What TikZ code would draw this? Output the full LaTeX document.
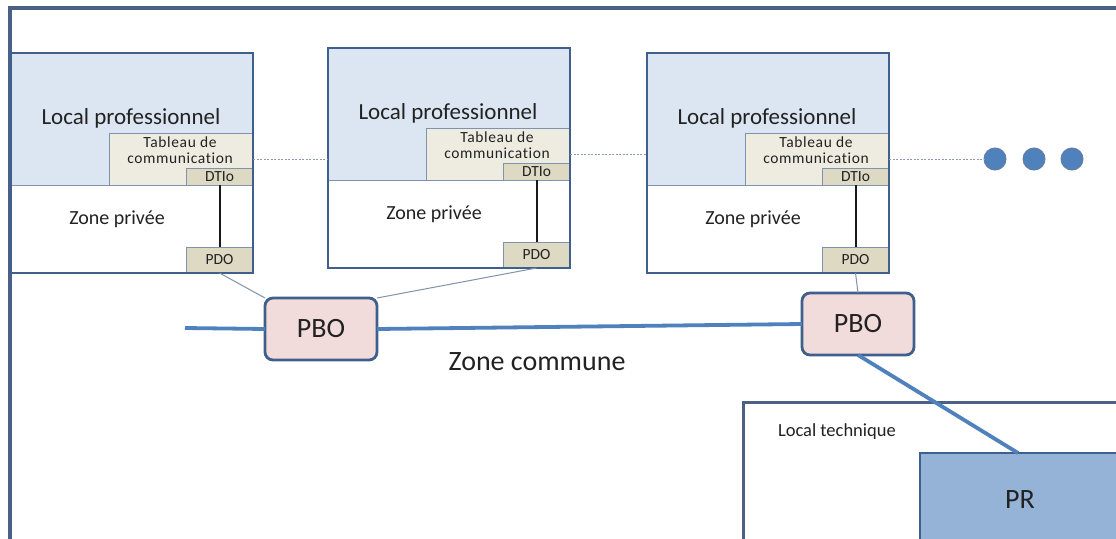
\documentclass[tikz,border=0pt]{standalone}
\usepackage{fontspec}
\setmainfont{Carlito}[Ligatures=NoCommon]
\definecolor{framecol}{HTML}{4A6085}
\definecolor{boxcol}{HTML}{3F5F8C}
\definecolor{thincol}{HTML}{7F93AE}
\definecolor{dotcol}{HTML}{8C9AAE}
\definecolor{lightblue}{HTML}{DCE6F2}
\definecolor{tanlight}{HTML}{EEECE1}
\definecolor{tandark}{HTML}{DDD9C3}
\definecolor{pink}{HTML}{F2DCDB}
\definecolor{prblue}{HTML}{95B3D7}
\definecolor{linkblue}{HTML}{4F81BD}
\definecolor{txt}{HTML}{222222}
\newcommand\fs[1]{\fontsize{#1}{#1}\selectfont}
\tikzset{
  every node/.style={text=txt, inner sep=0pt, outer sep=0pt},
  framestyle/.style={draw=framecol, line width=4.5pt},
  lpbox/.style={rectangle, draw=boxcol, line width=2.8pt, fill=white,
    anchor=north west, minimum width=242, minimum height=220},
  upperzone/.style={rectangle, draw=thincol, line width=1pt, fill=lightblue,
    anchor=north west, minimum width=242, minimum height=132},
  tabbox/.style={rectangle, draw=thincol, line width=1pt, fill=tanlight,
    anchor=north west, minimum width=144, minimum height=52},
  smallbox/.style={rectangle, draw=thincol, line width=1pt, fill=tandark,
    anchor=north west, minimum width=67, font=\fs{15.5}},
  pbobox/.style={rectangle, rounded corners=8pt, draw=boxcol, line width=2.8pt,
    fill=pink, minimum width=112, minimum height=62, font=\fs{28}},
  cable/.style={draw=black!90, line width=2pt},
  dotline/.style={draw=dotcol, line width=0.9pt, dash pattern=on 2pt off 1.5pt},
  thinlink/.style={draw=thincol, line width=1pt},
  fibre/.style={draw=linkblue, line width=3.8pt},
  bullet/.style={circle, fill=linkblue, draw=boxcol!80, line width=1pt, minimum size=22}
}
\begin{document}
\begin{tikzpicture}[x=1pt,y=-1pt]
\useasboundingbox (0,0) rectangle (1116,538);
\clip (0,0) rectangle (1116,538);
\fill[white] (0,0) rectangle (1116,538);

% outer boundary of the building
\draw[framestyle] (10,545) -- (10,8) -- (1125,8);

% the three professional premises
\foreach \i/\x/\y in {1/11/53, 2/328/48, 3/647/53}{
  \begin{scope}[shift={(\x,\y)}]
    \node[lpbox] (lp\i) at (0,0) {};
    \node[upperzone] (up\i) at (0,0) {};
    \node[font=\fs{23}] (lpl\i) at (120,65) {Local professionnel};
    \node[tabbox] (tab\i) at (98,80) {};
    \node[font=\fs{15.5}\addfontfeature{LetterSpace=4}, align=center] (tabl\i) at (169,97)
      {\baselineskip=18pt Tableau de\\communication};
    \node[smallbox, minimum height=17] (dtio\i) at (175,115) {DTIo};
    \node[smallbox, minimum height=26] (pdo\i) at (175,194) {PDO};
    \node[font=\fs{20}] (zp\i) at (106,166) {Zone privée};
    \draw[cable] (dtio\i.south) -- (pdo\i.north);
    \draw[boxcol, line width=2.8pt] (lp\i.north west) rectangle (lp\i.south east);
  \end{scope}
}

% continuation marks
\node[bullet] (dot1) at (995,159) {};
\node[bullet] (dot2) at (1034,159) {};
\node[bullet] (dot3) at (1072,159) {};

% communication links between premises
\draw[dotline] (tab1.east) -- (tab1.east -| lp2.west);
\draw[dotline] (tab2.east) -- (tab2.east -| lp3.west);
\draw[dotline] (tab3.east) -- (dot1.west);

% technical room
\draw[framestyle, line width=3pt] (743,545) -- (743,402) -- (1125,402);
\node[font=\fs{18.5}, anchor=west] (ltl) at (778,432) {Local technique};
\node[rectangle, anchor=north west, fill=prblue, draw=boxcol, line width=2.8pt,
      minimum width=210, minimum height=100] (pr) at (920,453) {};
\node[font=\fs{28}] (prl) at (1020,500) {PR};

% distribution boxes
\node[pbobox] (pbo1) at (321,329) {PBO};
\node[pbobox] (pbo2) at (858,324) {PBO};
\node[font=\fs{28}] (zc) at (537,362) {Zone commune};

% fibre runs
\coordinate (feed) at (185,328);
\draw[fibre] (feed) -- (pbo1.west);
\draw[fibre] (pbo1.east) -- (pbo2.west);
\draw[fibre] (pbo2.south) -- (pr.north -| 1018,0);

% drops from the boxes to the premises
\draw[thinlink] (pdo1.south) -- (pbo1.north west);
\draw[thinlink] (pdo2.south) -- (pbo1.north east);
\draw[thinlink] (pdo3.south) -- (pbo2.north);
\end{tikzpicture}
\end{document}
